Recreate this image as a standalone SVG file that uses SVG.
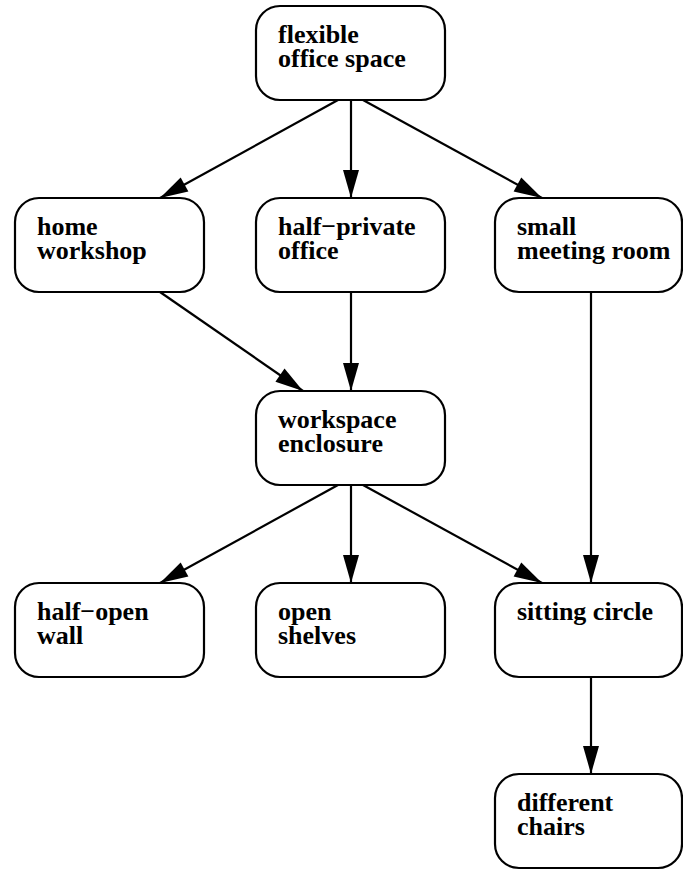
<svg xmlns="http://www.w3.org/2000/svg" width="683" height="870" viewBox="0 0 683 870">
  <style>
    .box { fill: #ffffff; stroke: #000000; stroke-width: 2.2; }
    .lbl { font-family: "Liberation Serif", "Times New Roman", serif; font-weight: bold; font-size: 26px; fill: #000000; }
    .edge { fill: none; stroke: #000000; stroke-width: 2.2; marker-end: url(#arrow); }
  </style>
  <defs>
    <marker id="arrow" markerUnits="userSpaceOnUse" markerWidth="30" markerHeight="18" refX="28" refY="8" orient="auto" overflow="visible">
      <path d="M0,0 L28,8 L0,16 Z" fill="#000000"/>
    </marker>
  </defs>

  <!-- connectors -->
  <g id="edges">
    <line class="edge" x1="338" y1="100" x2="160" y2="198"/>
    <line class="edge" x1="351" y1="100" x2="351" y2="198"/>
    <line class="edge" x1="363" y1="100" x2="542" y2="198"/>
    <line class="edge" x1="160" y1="292" x2="303" y2="391"/>
    <line class="edge" x1="351" y1="292" x2="351" y2="391"/>
    <line class="edge" x1="338" y1="485" x2="160" y2="583"/>
    <line class="edge" x1="351" y1="485" x2="351" y2="583"/>
    <line class="edge" x1="363" y1="485" x2="542" y2="583"/>
    <line class="edge" x1="591" y1="292" x2="591" y2="583"/>
    <line class="edge" x1="591" y1="677" x2="591" y2="774"/>
  </g>

  <!-- nodes -->
  <g id="flexible-office-space">
    <rect class="box" x="256" y="6" width="189" height="94" rx="24" ry="24"/>
    <text class="lbl" x="278" y="43">flexible</text>
    <text class="lbl" x="278" y="67">office space</text>
  </g>
  <g id="home-workshop">
    <rect class="box" x="15" y="198" width="189" height="94" rx="24" ry="24"/>
    <text class="lbl" x="37" y="235">home</text>
    <text class="lbl" x="37" y="259">workshop</text>
  </g>
  <g id="half-private-office">
    <rect class="box" x="256" y="198" width="189" height="94" rx="24" ry="24"/>
    <text class="lbl" x="278" y="235">half−private</text>
    <text class="lbl" x="278" y="259">office</text>
  </g>
  <g id="small-meeting-room">
    <rect class="box" x="495" y="198" width="187" height="94" rx="24" ry="24"/>
    <text class="lbl" x="517" y="235">small</text>
    <text class="lbl" x="517" y="259">meeting room</text>
  </g>
  <g id="workspace-enclosure">
    <rect class="box" x="256" y="391" width="189" height="94" rx="24" ry="24"/>
    <text class="lbl" x="278" y="428">workspace</text>
    <text class="lbl" x="278" y="452">enclosure</text>
  </g>
  <g id="half-open-wall">
    <rect class="box" x="15" y="583" width="189" height="94" rx="24" ry="24"/>
    <text class="lbl" x="37" y="620">half−open</text>
    <text class="lbl" x="37" y="644">wall</text>
  </g>
  <g id="open-shelves">
    <rect class="box" x="256" y="583" width="189" height="94" rx="24" ry="24"/>
    <text class="lbl" x="278" y="620">open</text>
    <text class="lbl" x="278" y="644">shelves</text>
  </g>
  <g id="sitting-circle">
    <rect class="box" x="495" y="583" width="187" height="94" rx="24" ry="24"/>
    <text class="lbl" x="517" y="620">sitting circle</text>
  </g>
  <g id="different-chairs">
    <rect class="box" x="495" y="774" width="187" height="94" rx="24" ry="24"/>
    <text class="lbl" x="517" y="811">different</text>
    <text class="lbl" x="517" y="835">chairs</text>
  </g>
</svg>
